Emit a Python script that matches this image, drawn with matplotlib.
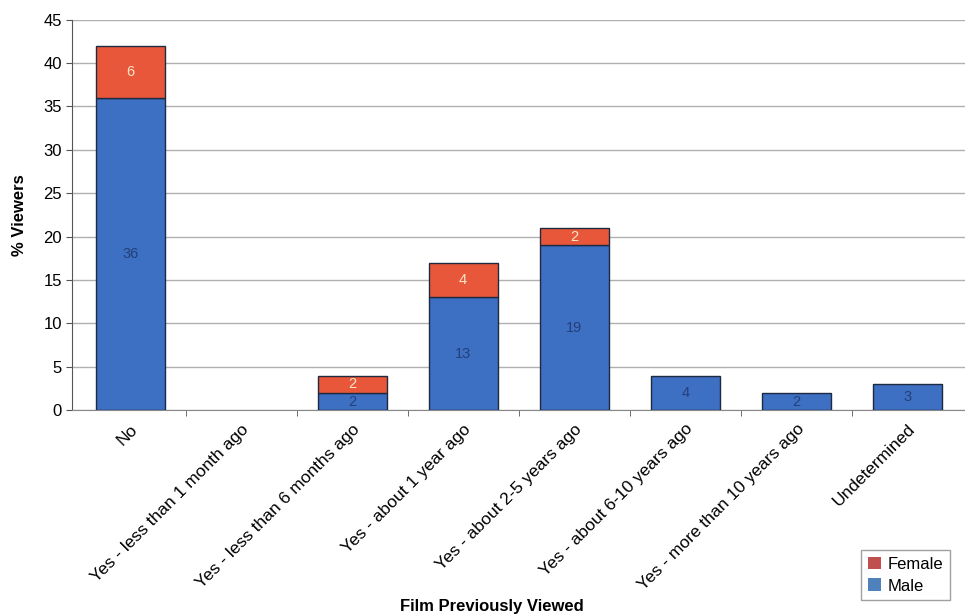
import matplotlib.pyplot as plt
from matplotlib.patches import Patch
import numpy as np

categories = ["No", "Yes - less than 1 month ago", "Yes - less than 6 months ago",
              "Yes - about 1 year ago", "Yes - about 2-5 years ago",
              "Yes - about 6-10 years ago", "Yes - more than 10 years ago",
              "Undetermined"]
male = [36, 0, 2, 13, 19, 4, 2, 3]
female = [6, 0, 2, 4, 2, 0, 0, 0]

plt.rcParams['font.family'] = ['Liberation Sans', 'DejaVu Sans']

fig = plt.figure(figsize=(9.65, 6.16), dpi=100)
ax = fig.add_axes([0.075, 0.334, 0.925, 0.634])

x = np.arange(len(categories))
male_arr = np.array(male)
female_arr = np.array(female)
# skip empty segments so no zero-height outlines are drawn
mm = male_arr > 0
fm = female_arr > 0
ax.bar(x[mm], male_arr[mm], width=0.62, color='#3d6fc2', edgecolor='#1e2a40', linewidth=1.0, zorder=3)
ax.bar(x[fm], female_arr[fm], width=0.62, bottom=male_arr[fm], color='#e8573a',
       edgecolor='#1e2a40', linewidth=1.0, zorder=3)

# value labels inside the segments
for xi, m, f in zip(x, male, female):
    if m > 0:
        ax.text(xi, m / 2, str(m), ha='center', va='center', fontsize=10.5, color='#24407a', zorder=4)
    if f > 0:
        ax.text(xi, m + f / 2, str(f), ha='center', va='center', fontsize=10.5, color='#fbe6c8', zorder=4)

ax.set_xlim(-0.52, len(categories) - 0.48)
ax.set_ylim(0, 45)
ax.set_yticks(range(0, 46, 5))
ax.set_xticks(x)
ax.set_xticklabels(categories, rotation=45, ha='right', rotation_mode='anchor', fontsize=12.5)
ax.tick_params(axis='y', labelsize=12, length=4, color='#555555')
ax.tick_params(axis='x', length=0, pad=8)
# tick marks between categories
ax.set_xticks(x[:-1] + 0.5, minor=True)
ax.tick_params(axis='x', which='minor', length=4, color='#555555')

ax.grid(axis='y', color='#b0b0b0', linewidth=1.0, zorder=0)
for side in ['top', 'right']:
    ax.spines[side].set_visible(False)
ax.spines['left'].set_color('#555555')
ax.spines['bottom'].set_color('#888888')

ax.set_ylabel("% Viewers", fontsize=12, fontweight='bold', labelpad=12)
fig.text(0.51, 0.015, "Film Previously Viewed", ha='center', va='center', fontsize=12, fontweight='bold')

handles = [Patch(facecolor='#c0504d', edgecolor='none', label='Female'),
           Patch(facecolor='#4f81bd', edgecolor='none', label='Male')]
fig.legend(handles=handles, loc='lower right', bbox_to_anchor=(0.993, 0.012), fontsize=12,
           frameon=True, fancybox=False, edgecolor='#888888', handlelength=0.8, handleheight=0.8,
           handletextpad=0.4, borderpad=0.4, labelspacing=0.4)

fig.savefig("out.png", dpi=100)
